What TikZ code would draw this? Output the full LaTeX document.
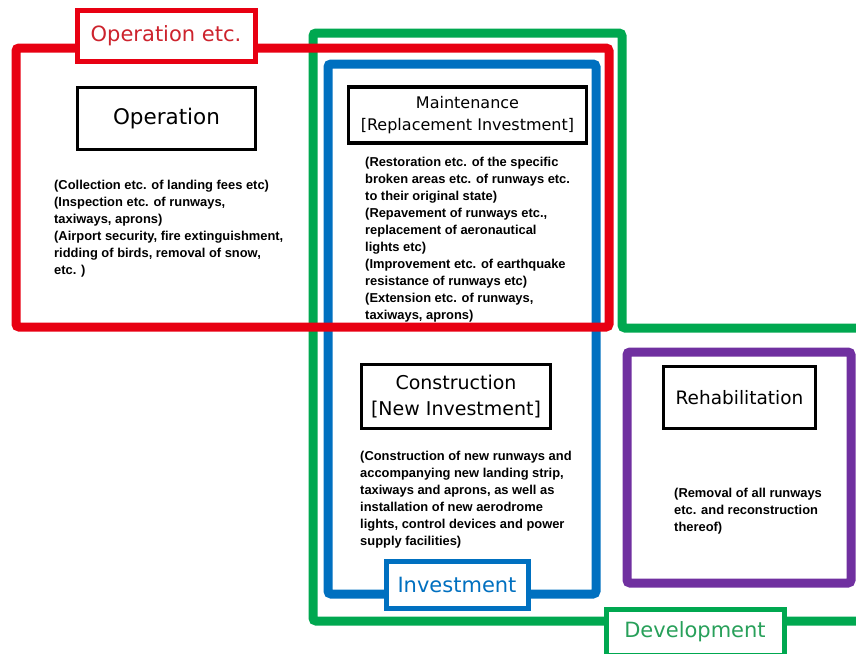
\documentclass[tikz,border=0pt]{standalone}
\usepackage{fontspec}
\setmainfont{DejaVu Sans}
\newfontfamily\notefont{Liberation Sans}
\definecolor{rosso}{RGB}{232,0,18}
\definecolor{rossotesto}{RGB}{205,35,45}
\definecolor{verde}{RGB}{0,168,80}
\definecolor{verdetesto}{RGB}{40,160,90}
\definecolor{blu}{RGB}{0,112,192}
\definecolor{viola}{RGB}{112,48,160}
\tikzset{
  cornice/.style={line width=9pt, rounded corners=3pt},
  etichetta/.style={draw, line width=5pt, fill=white, inner sep=0pt, font=\fontsize{21}{24}\selectfont},
  titolo/.style={draw=black, line width=3.3pt, fill=white, inner sep=0pt, align=center},
  nota/.style={anchor=north west, inner sep=0pt, align=left, font=\notefont\bfseries\fontsize{12.9}{17}\selectfont}
}
\begin{document}
\begin{tikzpicture}[x=1pt,y=-1pt]
\useasboundingbox (0,0) rectangle (856,653); % margini come nell'originale
\draw[verde, cornice] (860,328) -- (622,328) -- (622,33) -- (313,33) -- (313,621) -- (860,621); % sviluppo
\draw[blu, cornice] (328,64) rectangle (596,594); % investimento
\draw[viola, cornice] (627,352) rectangle (851,583); % riabilitazione
\draw[rosso, cornice] (16,48) rectangle (609,327); % gestione
\node[etichetta, draw=rosso, text=rossotesto, minimum width=178pt, minimum height=51pt] (etcop) at (166,35.5) {Operation etc.};
\node[etichetta, draw=blu, text=blu, minimum width=142pt, minimum height=47pt] (invest) at (457,584.5) {Investment};
\node[etichetta, draw=verde, text=verdetesto, minimum width=178pt, minimum height=46pt] (svil) at (695,632) {Development};
\node[titolo, minimum width=178pt, minimum height=62pt, font=\fontsize{21.5}{24}\selectfont] (oper) at (166.5,118.5) {Operation};
\node[titolo, minimum width=238pt, minimum height=56pt, font=\fontsize{16}{22}\selectfont] (manut) at (467.5,115) {Maintenance\\{[Replacement Investment]}};
\node[titolo, minimum width=189pt, minimum height=64pt, font=\fontsize{19}{26}\selectfont] (costr) at (456,396.5) {Construction\\{[New Investment]}};
\node[titolo, minimum width=152pt, minimum height=62pt, font=\fontsize{18.5}{22}\selectfont] (riab) at (739.5,397.5) {Rehabilitation};
\node[nota] (notaoper) at (54,180) {(Collection etc. of landing fees etc)\\(Inspection etc. of runways,\\taxiways, aprons)\\(Airport security, fire extinguishment,\\ridding of birds, removal of snow,\\etc. )};
\node[nota] (notamanut) at (365,157) {(Restoration etc. of the specific\\broken areas etc. of runways etc.\\to their original state)\\(Repavement of runways etc.,\\replacement of aeronautical\\lights etc)\\(Improvement etc. of earthquake\\resistance of runways etc)\\(Extension etc. of runways,\\taxiways, aprons)};
\node[nota] (notacostr) at (360,451) {(Construction of new runways and\\accompanying new landing strip,\\taxiways and aprons, as well as\\installation of new aerodrome\\lights, control devices and power\\supply facilities)};
\node[nota] (notariab) at (674,488) {(Removal of all runways\\etc. and reconstruction\\thereof)};
\end{tikzpicture}
\end{document}
